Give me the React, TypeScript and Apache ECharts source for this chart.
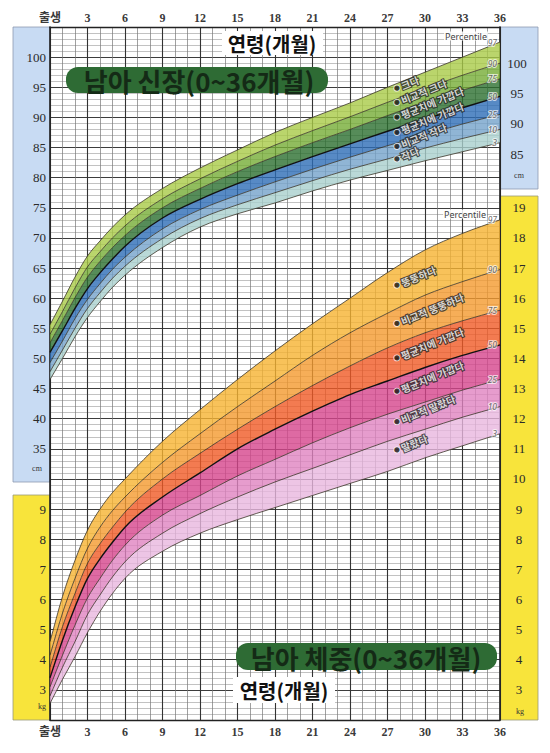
import React, { useEffect, useRef } from "react";
import * as echarts from "echarts";

// ---- data ----
const months = [0, 1, 2, 3, 4, 5, 6, 9, 12, 15, 18, 21, 24, 27, 30, 33, 36];
const percentileNames = ["3", "10", "25", "50", "75", "90", "97"];

// 남아 신장 (cm)
const heightP3 = [46.5, 50.0, 53.6, 56.8, 59.4, 61.8, 63.8, 68.4, 71.8, 74.0, 75.8, 77.8, 79.6, 81.2, 82.8, 84.3, 85.8];
const heightP10 = [47.8, 51.4, 55.0, 58.3, 60.9, 63.3, 65.3, 69.9, 73.2, 75.5, 77.5, 79.5, 81.4, 83.1, 84.9, 86.5, 88.0];
const heightP25 = [49.3, 52.9, 56.6, 59.8, 62.4, 64.8, 66.8, 71.5, 74.7, 77.1, 79.3, 81.4, 83.4, 85.3, 87.1, 88.9, 90.5];
const heightP50 = [51.0, 54.6, 58.3, 61.6, 64.2, 66.5, 68.6, 73.3, 76.4, 79.0, 81.3, 83.5, 85.6, 87.7, 89.7, 91.6, 93.5];
const heightP75 = [52.6, 56.3, 60.1, 63.5, 66.1, 68.4, 70.4, 75.0, 78.2, 81.0, 83.5, 85.8, 88.0, 90.3, 92.5, 94.5, 96.4];
const heightP90 = [54.0, 57.8, 61.7, 65.2, 67.7, 70.0, 72.0, 76.5, 79.8, 82.7, 85.4, 87.8, 90.1, 92.5, 94.8, 97.0, 99.0];
const heightP97 = [55.6, 59.5, 63.5, 67.0, 69.5, 71.8, 73.8, 78.2, 81.6, 84.6, 87.5, 90.0, 92.4, 95.0, 97.5, 100.0, 102.5];

// 남아 체중 (kg)
const weightP3 = [2.55, 3.35, 4.1, 4.9, 5.6, 6.2, 6.7, 7.6, 8.2, 8.65, 9.05, 9.45, 9.85, 10.25, 10.7, 11.1, 11.5];
const weightP10 = [2.8, 3.75, 4.6, 5.5, 6.15, 6.75, 7.25, 8.2, 8.85, 9.4, 9.9, 10.35, 10.8, 11.25, 11.65, 12.05, 12.4];
const weightP25 = [3.1, 4.15, 5.15, 6.05, 6.7, 7.3, 7.8, 8.8, 9.45, 10.1, 10.65, 11.2, 11.7, 12.15, 12.55, 12.95, 13.3];
const weightP50 = [3.4, 4.65, 5.75, 6.7, 7.35, 7.9, 8.4, 9.4, 10.2, 11.0, 11.65, 12.25, 12.8, 13.25, 13.7, 14.1, 14.45];
const weightP75 = [3.75, 5.1, 6.2, 7.2, 7.85, 8.4, 8.9, 10.0, 10.85, 11.65, 12.4, 13.1, 13.75, 14.35, 14.85, 15.25, 15.6];
const weightP90 = [4.15, 5.55, 6.7, 7.7, 8.4, 8.95, 9.4, 10.55, 11.5, 12.4, 13.25, 14.1, 14.85, 15.5, 16.1, 16.55, 16.95];
const weightP97 = [4.6, 6.1, 7.3, 8.3, 9.0, 9.55, 10.0, 11.25, 12.3, 13.3, 14.25, 15.15, 16.0, 16.85, 17.6, 18.15, 18.6];

// tick labels
const heightLeftTicks = [35, 40, 45, 50, 55, 60, 65, 70, 75, 80, 85, 90, 95, 100];
const heightRightTicks = [85, 90, 95, 100];
const weightLeftTicks = [3, 4, 5, 6, 7, 8, 9];
const weightRightTicks = [3, 4, 5, 6, 7, 8, 9, 10, 11, 12, 13, 14, 15, 16, 17, 18, 19];

// band texts (from bottom band to top band)
const heightBandTexts = ["작다", "비교적 작다", "평균치에 가깝다", "평균치에 가깝다", "비교적 크다", "크다"];
const weightBandTexts = ["말랐다", "비교적 말랐다", "평균치에 가깝다", "평균치에 가깝다", "비교적 뚱뚱하다", "뚱뚱하다"];

// ---- styles ----
const heightBandColors = ["#a9cfcd", "#74a2ca", "#2d6db6", "#2c6f2f", "#76ad36", "#a9ca47"];
const weightBandColors = ["#e8b6df", "#e083c0", "#d6458c", "#f05a25", "#f49a2e", "#f6b331"];
const LABEL_MONTH = 27.6;
const SERIF = "'Liberation Serif', 'DejaVu Serif', 'Noto Sans CJK KR', serif";
const KR = "'Noto Sans CJK KR', 'Noto Sans', sans-serif";

const heightCurves = [heightP3, heightP10, heightP25, heightP50, heightP75, heightP90, heightP97];
const weightCurves = [weightP3, weightP10, weightP25, weightP50, weightP75, weightP90, weightP97];

function valueAt(curve: number[], m: number): number {
  for (let i = 0; i < months.length - 1; i++) {
    if (m >= months[i] && m <= months[i + 1]) {
      const t = (m - months[i]) / (months[i + 1] - months[i]);
      return curve[i] + (curve[i + 1] - curve[i]) * t;
    }
  }
  return curve[curve.length - 1];
}

// monotone cubic tangents in pixel space (rendering only)
function tangents(pts: number[][]): number[] {
  const n = pts.length;
  const d: number[] = [];
  const m: number[] = new Array(n).fill(0);
  for (let i = 0; i < n - 1; i++) d.push((pts[i + 1][1] - pts[i][1]) / (pts[i + 1][0] - pts[i][0]));
  m[0] = d[0];
  m[n - 1] = d[n - 2];
  for (let i = 1; i < n - 1; i++) {
    const h0 = pts[i][0] - pts[i - 1][0];
    const h1 = pts[i + 1][0] - pts[i][0];
    m[i] = d[i - 1] * d[i] <= 0 ? 0 : (h1 * d[i - 1] + h0 * d[i]) / (h0 + h1);
  }
  for (let i = 0; i < n - 1; i++) {
    if (d[i] === 0) { m[i] = 0; m[i + 1] = 0; continue; }
    const a = m[i] / d[i];
    const b = m[i + 1] / d[i];
    const s = a * a + b * b;
    if (s > 9) {
      const t = 3 / Math.sqrt(s);
      m[i] = t * a * d[i];
      m[i + 1] = t * b * d[i];
    }
  }
  return m;
}

function forwardPath(pts: number[][]): string {
  const m = tangents(pts);
  let s = `M${pts[0][0]},${pts[0][1]}`;
  for (let i = 0; i < pts.length - 1; i++) {
    const h = (pts[i + 1][0] - pts[i][0]) / 3;
    s += `C${pts[i][0] + h},${pts[i][1] + m[i] * h} ${pts[i + 1][0] - h},${pts[i + 1][1] - m[i + 1] * h} ${pts[i + 1][0]},${pts[i + 1][1]}`;
  }
  return s;
}

function backwardPath(pts: number[][]): string {
  const m = tangents(pts);
  const n = pts.length;
  let s = `L${pts[n - 1][0]},${pts[n - 1][1]}`;
  for (let i = n - 2; i >= 0; i--) {
    const h = (pts[i + 1][0] - pts[i][0]) / 3;
    s += `C${pts[i + 1][0] - h},${pts[i + 1][1] - m[i + 1] * h} ${pts[i][0] + h},${pts[i][1] + m[i] * h} ${pts[i][0]},${pts[i][1]}`;
  }
  return s;
}

function bandChart(curves: number[][], colors: string[], yAxisIndex: number, name: string) {
  const data = months.map((m, j) => [m, ...curves.map((c) => c[j])]);
  return {
    type: "custom",
    name,
    xAxisIndex: 0,
    yAxisIndex,
    silent: true,
    z: 3,
    dimensions: ["month", "p3", "p10", "p25", "p50", "p75", "p90", "p97"],
    encode: { x: 0, y: [1, 2, 3, 4, 5, 6, 7] },
    data,
    renderItem: (params: any, api: any) => {
      if (params.dataIndex !== 0) return null;
      const n = params.dataInsideLength || months.length;
      const lines: number[][][] = [];
      for (let k = 0; k < 7; k++) {
        const pts: number[][] = [];
        for (let j = 0; j < n; j++) pts.push(api.coord([api.value(0, j), api.value(k + 1, j)]));
        lines.push(pts);
      }
      const children: any[] = [];
      for (let k = 0; k < 6; k++) {
        const d = forwardPath(lines[k + 1]) + backwardPath(lines[k]) + "Z";
        children.push({ type: "path", shape: { pathData: d }, style: { fill: colors[k], opacity: 0.8, stroke: null } });
      }
      for (let k = 0; k < 7; k++) {
        children.push({
          type: "path",
          shape: { pathData: forwardPath(lines[k]) },
          style: { fill: null, stroke: k === 3 ? "#111" : "#3b3528", lineWidth: k === 3 ? 1.4 : 0.8 },
        });
      }
      return { type: "group", children };
    },
  };
}

function percentileLabelSeries(curves: number[][], yAxisIndex: number) {
  return {
    type: "scatter",
    yAxisIndex,
    xAxisIndex: 0,
    silent: true,
    symbolSize: 0,
    z: 6,
    data: curves.map((c, i) => ({
      value: [36, c[c.length - 1]],
      label: { formatter: percentileNames[i] },
    })),
    label: {
      show: true,
      position: "left",
      distance: 3,
      fontSize: 8.5,
      fontStyle: "italic",
      fontFamily: "'Noto Sans', sans-serif",
      color: "#444",
      textBorderColor: "rgba(255,255,255,0.85)",
      textBorderWidth: 2,
    },
  };
}

function bandTextSeries(curves: number[][], texts: string[], yAxisIndex: number) {
  return {
    type: "scatter",
    yAxisIndex,
    xAxisIndex: 0,
    silent: true,
    symbolSize: 0,
    z: 7,
    data: texts.map((t, i) => ({
      value: [LABEL_MONTH, (valueAt(curves[i], LABEL_MONTH) + valueAt(curves[i + 1], LABEL_MONTH)) / 2],
      label: { formatter: `{b|●}{t|${t}}` },
    })),
    label: {
      show: true,
      position: "right",
      distance: 0,
      offset: [0, -3],
      rotate: 22,
      rich: {
        b: { fontSize: 7, color: "#111", textBorderColor: "#fff", textBorderWidth: 1.5, fontFamily: "'DejaVu Sans', sans-serif", padding: [0, 2, 0, 0] },
        t: { fontSize: 10, fontWeight: "bold", fontFamily: KR, color: "#fff", textBorderColor: "#262626", textBorderWidth: 2.2 },
      },
    },
  };
}

const axisLabelSerif = { fontFamily: SERIF, fontSize: 13, color: "#2a2a2a" };
const monthLabel = {
  formatter: (v: number) => (v === 0 ? "출생" : String(v)),
  fontFamily: SERIF,
  fontSize: 12,
  fontWeight: "bold",
  color: "#3a3a3a",
};

const option: any = {
  animation: false,
  backgroundColor: "transparent",
  grid: { left: 50, top: 27, width: 450, height: 693, containLabel: false },
  xAxis: [
    {
      type: "value",
      position: "top",
      min: 0,
      max: 36,
      interval: 3,
      axisLine: { show: true, onZero: false, lineStyle: { color: "#222", width: 1.3 } },
      axisTick: { show: false },
      minorTick: { show: false, splitNumber: 3 },
      axisLabel: { ...monthLabel, margin: 3 },
      splitLine: { show: true, lineStyle: { color: "#333", width: 1.1 } },
      minorSplitLine: { show: true, lineStyle: { color: "#777", width: 0.7 } },
    },
    {
      type: "value",
      position: "bottom",
      min: 0,
      max: 36,
      interval: 3,
      axisLine: { show: true, onZero: false, lineStyle: { color: "#222", width: 1.3 } },
      axisTick: { show: false },
      axisLabel: { ...monthLabel, margin: 6 },
      splitLine: { show: false },
    },
  ],
  yAxis: [
    {
      type: "value",
      position: "left",
      min: -10,
      max: 105,
      interval: 5,
      axisLine: { show: true, onZero: false, lineStyle: { color: "#222", width: 1.6 } },
      axisTick: { show: false },
      minorTick: { show: false, splitNumber: 5 },
      axisLabel: {
        ...axisLabelSerif,
        margin: 4,
        formatter: (v: number) => (heightLeftTicks.indexOf(v) >= 0 ? String(v) : ""),
      },
      splitLine: { show: true, lineStyle: { color: "#3d3d3d", width: 1 } },
      minorSplitLine: { show: true, lineStyle: { color: "#999", width: 0.6 } },
    },
    {
      type: "value",
      position: "left",
      min: 2,
      max: 25,
      interval: 1,
      axisLine: { show: false, onZero: false },
      axisTick: { show: false },
      axisLabel: {
        ...axisLabelSerif,
        margin: 4,
        formatter: (v: number) => (weightLeftTicks.indexOf(v) >= 0 ? String(v) : ""),
      },
      splitLine: { show: false },
    },
    {
      type: "value",
      position: "right",
      min: -10,
      max: 105,
      interval: 5,
      axisLine: { show: true, onZero: false, lineStyle: { color: "#222", width: 1.6 } },
      axisTick: { show: false },
      axisLabel: {
        ...axisLabelSerif,
        align: "center",
        verticalAlign: "top",
        margin: 17,
        formatter: (v: number) => (heightRightTicks.indexOf(v) >= 0 ? String(v) : ""),
      },
      splitLine: { show: false },
    },
    {
      type: "value",
      position: "right",
      min: 2,
      max: 25,
      interval: 1,
      axisLine: { show: false, onZero: false },
      axisTick: { show: false },
      axisLabel: {
        ...axisLabelSerif,
        align: "center",
        margin: 19,
        formatter: (v: number) => (weightRightTicks.indexOf(v) >= 0 ? String(v) : ""),
      },
      splitLine: { show: false },
    },
  ],
  graphic: [
    // side panels
    { type: "rect", z: -10, shape: { x: 13, y: 27, width: 37, height: 455 }, style: { fill: "#c8dbf3", stroke: "#8e9bb0", lineWidth: 0.8 } },
    { type: "rect", z: -10, shape: { x: 13, y: 495, width: 37, height: 225 }, style: { fill: "#f8e43b", stroke: "#9a9a7a", lineWidth: 0.8 } },
    { type: "rect", z: -10, shape: { x: 500, y: 27, width: 38, height: 162 }, style: { fill: "#c8dbf3", stroke: "#8e9bb0", lineWidth: 0.8 } },
    { type: "rect", z: -10, shape: { x: 500, y: 196, width: 38, height: 524 }, style: { fill: "#f8e43b", stroke: "#9a9a7a", lineWidth: 0.8 } },
    // units
    { type: "text", z: 20, x: 37, y: 468, style: { text: "cm", fontSize: 8, fontFamily: SERIF, fill: "#333", align: "center", verticalAlign: "middle" } },
    { type: "text", z: 20, x: 42, y: 706, style: { text: "kg", fontSize: 8, fontFamily: SERIF, fill: "#333", align: "center", verticalAlign: "middle" } },
    { type: "text", z: 20, x: 519, y: 175, style: { text: "cm", fontSize: 8, fontFamily: SERIF, fill: "#333", align: "center", verticalAlign: "middle" } },
    { type: "text", z: 20, x: 520, y: 711, style: { text: "kg", fontSize: 8, fontFamily: SERIF, fill: "#333", align: "center", verticalAlign: "middle" } },
    // Percentile captions
    { type: "text", z: 20, x: 466, y: 36, style: { text: "Percentile", fontSize: 9, fontFamily: "'Noto Sans', sans-serif", fill: "#444", align: "center", verticalAlign: "middle", backgroundColor: "rgba(255,255,255,0.85)", padding: [0, 1] } },
    { type: "text", z: 20, x: 465, y: 214, style: { text: "Percentile", fontSize: 9, fontFamily: "'Noto Sans', sans-serif", fill: "#444", align: "center", verticalAlign: "middle", backgroundColor: "rgba(255,255,255,0.85)", padding: [0, 1] } },
    // top age title
    { type: "rect", z: 20, shape: { x: 222, y: 31, width: 101, height: 24 }, style: { fill: "#fff" } },
    { type: "text", z: 21, x: 272, y: 43, style: { text: "연령(개월)", fontSize: 20, fontWeight: "bold", fontFamily: KR, fill: "#111", align: "center", verticalAlign: "middle" } },
    // height title pill
    { type: "rect", z: 20, shape: { x: 66, y: 67, width: 262, height: 26, r: 12 }, style: { fill: "#2e6b34" } },
    { type: "text", z: 21, x: 199, y: 80, style: { text: "남아 신장(0~36개월)", fontSize: 26, fontWeight: "bold", fontFamily: KR, fill: "#142a16", align: "center", verticalAlign: "middle" } },
    // weight title pill
    { type: "rect", z: 20, shape: { x: 236, y: 643, width: 261, height: 27, r: 12 }, style: { fill: "#2e6b34" } },
    { type: "text", z: 21, x: 366, y: 657, style: { text: "남아 체중(0~36개월)", fontSize: 26, fontWeight: "bold", fontFamily: KR, fill: "#142a16", align: "center", verticalAlign: "middle" } },
    // bottom age title
    { type: "rect", z: 20, shape: { x: 233, y: 677, width: 102, height: 26 }, style: { fill: "#fff" } },
    { type: "text", z: 21, x: 284, y: 690, style: { text: "연령(개월)", fontSize: 20, fontWeight: "bold", fontFamily: KR, fill: "#111", align: "center", verticalAlign: "middle" } },
  ],
  series: [
    bandChart(heightCurves, heightBandColors, 0, "남아 신장"),
    bandChart(weightCurves, weightBandColors, 1, "남아 체중"),
    percentileLabelSeries(heightCurves, 0),
    percentileLabelSeries(weightCurves, 1),
    bandTextSeries(heightCurves, heightBandTexts, 0),
    bandTextSeries(weightCurves, weightBandTexts, 1),
  ],
};

export default function App() {
  const ref = useRef<HTMLDivElement>(null);
  useEffect(() => {
    if (!ref.current) return;
    const chart = echarts.init(ref.current, undefined, { renderer: "svg" });
    chart.setOption(option);
    return () => chart.dispose();
  }, []);
  return <div ref={ref} style={{ position: "absolute", left: 0, top: 0, width: 550, height: 753 }} />;
}
